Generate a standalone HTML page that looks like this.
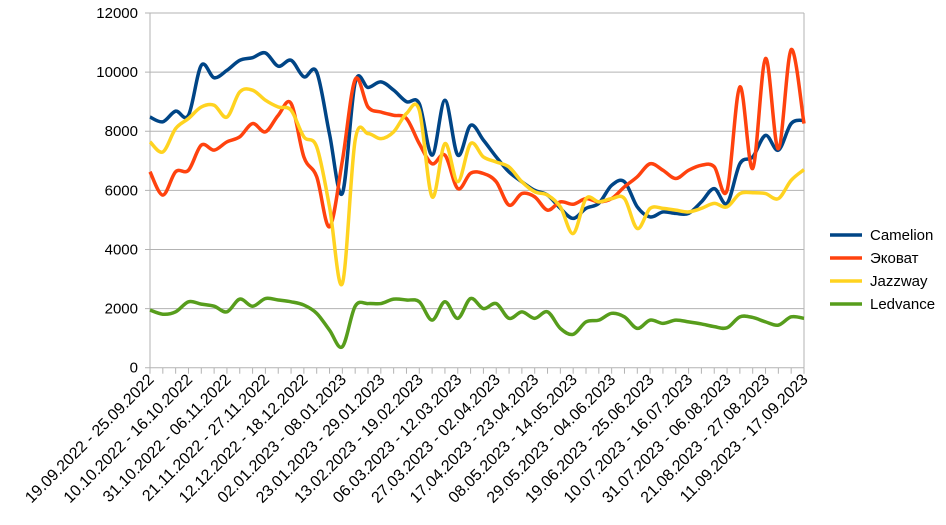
<!DOCTYPE html>
<html><head><meta charset="utf-8"><style>
body{margin:0;background:#fff;}
svg{display:block;font-family:"Liberation Sans","DejaVu Sans",sans-serif;}
</style></head><body>
<svg id="chart" width="946" height="525"></svg>
<script>
const categories=["19.09.2022 - 25.09.2022","10.10.2022 - 16.10.2022","31.10.2022 - 06.11.2022","21.11.2022 - 27.11.2022","12.12.2022 - 18.12.2022","02.01.2023 - 08.01.2023","23.01.2023 - 29.01.2023","13.02.2023 - 19.02.2023","06.03.2023 - 12.03.2023","27.03.2023 - 02.04.2023","17.04.2023 - 23.04.2023","08.05.2023 - 14.05.2023","29.05.2023 - 04.06.2023","19.06.2023 - 25.06.2023","10.07.2023 - 16.07.2023","31.07.2023 - 06.08.2023","21.08.2023 - 27.08.2023","11.09.2023 - 17.09.2023"];
const pointCount=52;
const yTicks=[0,2000,4000,6000,8000,10000,12000];
const camelion=[8480,8320,8680,8540,10230,9810,10060,10400,10490,10650,10200,10400,9840,10000,7900,5900,9650,9480,9670,9390,9000,8930,7190,9050,7190,8200,7700,7130,6620,6290,6000,5840,5390,5050,5390,5560,6170,6290,5440,5100,5270,5220,5220,5610,6060,5560,6900,7130,7860,7360,8260,8370];
const ekovat=[6630,5840,6630,6680,7530,7360,7640,7810,8260,7980,8540,8940,7130,6460,4770,7000,9750,8820,8650,8540,8430,7580,6900,7190,6060,6580,6570,6290,5500,5890,5780,5330,5610,5530,5720,5610,5720,6120,6460,6900,6680,6400,6680,6850,6800,6000,9500,6740,10460,7410,10760,8260];
const jazzway=[7640,7300,8090,8430,8820,8880,8480,9330,9390,9050,8820,8710,7810,7470,5440,2850,7700,7920,7750,7980,8600,8710,5780,7580,6290,7580,7130,6960,6790,6290,5950,5840,5440,4540,5720,5610,5720,5720,4710,5390,5390,5330,5270,5390,5560,5440,5890,5920,5890,5720,6340,6700];
const ledvance=[1950,1810,1890,2230,2150,2080,1890,2320,2080,2340,2290,2230,2120,1840,1270,710,2080,2170,2170,2320,2290,2230,1610,2230,1670,2340,2000,2170,1670,1890,1670,1890,1330,1130,1550,1610,1840,1720,1330,1610,1500,1610,1550,1480,1390,1350,1720,1700,1550,1440,1720,1670];
const seriesNames=["Camelion","Эковат","Jazzway","Ledvance"];
const seriesData=[camelion,ekovat,jazzway,ledvance];
const colors=["#004586","#ff420e","#ffd320","#579d1c"];

const NS="http://www.w3.org/2000/svg";
const svg=document.getElementById('chart');
const L=150,R=804,T=13,B=367.7,YMAX=12000;
function xs(i){return L+(R-L)*i/(pointCount-1);}
function ys(v){return B-(B-T)*v/YMAX;}
function mk(tag,attrs){const e=document.createElementNS(NS,tag);for(const k in attrs)e.setAttribute(k,attrs[k]);svg.appendChild(e);return e;}

yTicks.forEach(v=>{
  const g=mk('line',{x1:L-5,x2:R,y1:ys(v),y2:ys(v),stroke:'#b3b3b3','stroke-width':1});
  
  
  const t=mk('text',{x:138,y:ys(v)+5,'text-anchor':'end','font-size':15,fill:'#000'});
  t.textContent=v;
  
  
});
const ax=mk('line',{x1:L,x2:L,y1:T,y2:B,stroke:'#b3b3b3','stroke-width':1});


const rx=mk('line',{x1:R,x2:R,y1:T,y2:B,stroke:'#b3b3b3','stroke-width':1});


for(let i=0;i<pointCount;i++){
  const tk=mk('line',{x1:xs(i),x2:xs(i),y1:B,y2:B+6,stroke:'#b3b3b3','stroke-width':1});
  
  
}
categories.forEach((c,k)=>{
  const x=xs(k*3)+2,y=B+10;
  const t=mk('text',{x:x,y:y+4,'text-anchor':'end','font-size':16,fill:'#000',transform:`rotate(-45 ${x} ${y})`});
  t.textContent=c;
  
  
});
function smoothPath(vals){
  const p=vals.map((v,i)=>[xs(i),ys(v)]);
  let d=`M${p[0][0]},${p[0][1]}`;
  for(let i=0;i<p.length-1;i++){
    const p0=p[i-1]||p[i],p1=p[i],p2=p[i+1],p3=p[i+2]||p[i+1];
    const c1=[p1[0]+(p2[0]-p0[0])/6,p1[1]+(p2[1]-p0[1])/6];
    const c2=[p2[0]-(p3[0]-p1[0])/6,p2[1]-(p3[1]-p1[1])/6];
    d+=` C${c1[0]},${c1[1]} ${c2[0]},${c2[1]} ${p2[0]},${p2[1]}`;
  }
  return d;
}
seriesData.forEach((s,k)=>{
  const path=mk('path',{d:smoothPath(s),fill:'none',stroke:colors[k],'stroke-width':3.5,'stroke-linejoin':'round'});
  
  
  const ly=235+k*23;
  const ll=mk('line',{x1:830,x2:862,y1:ly,y2:ly,stroke:colors[k],'stroke-width':3.5});
  
  
  const lt=mk('text',{x:870,y:ly+5,'font-size':15,fill:'#000'});
  lt.textContent=seriesNames[k];
  
  
});
</script>
</body></html>
